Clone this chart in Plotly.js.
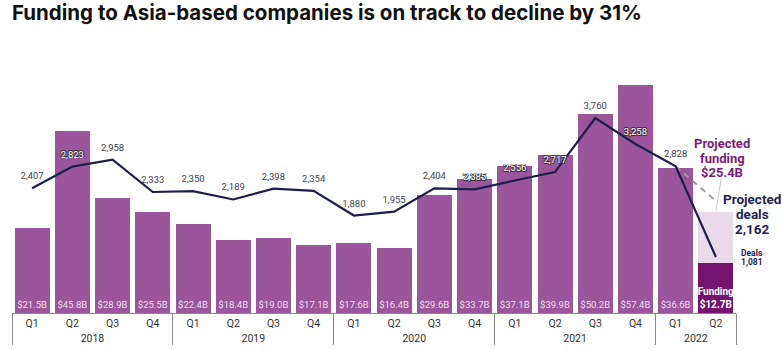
<!DOCTYPE html>
<html><head><meta charset="utf-8">
<script src="https://cdn.plot.ly/plotly-3.0.1.min.js"></script>
<style>html,body{margin:0;padding:0;background:#fff}</style>
</head><body><div id="chart" style="width:782px;height:350px"></div>
<script>
const years = ['2018','2018','2018','2018','2019','2019','2019','2019','2020','2020','2020','2020','2021','2021','2021','2021','2022','2022'];
const quarters = ['Q1','Q2','Q3','Q4','Q1','Q2','Q3','Q4','Q1','Q2','Q3','Q4','Q1','Q2','Q3','Q4','Q1','Q2'];
const fundingB = [21.5,45.8,28.9,25.5,22.4,18.4,19.0,17.1,17.6,16.4,29.6,33.7,37.1,39.9,50.2,57.4,36.6,12.7];
const deals = [2407,2823,2958,2333,2350,2189,2398,2354,1880,1955,2404,2385,2556,2717,3760,3258,2828,1081];
const outlinedLabelIdx = [1,11,12,13,15];
const projectedYear = '2022';
const projectedQuarter = 'Q2';
const projectedFundingB = 25.4;
const projectedDeals = 2162;
const last = fundingB.length - 1;

const fmt = v => v.toLocaleString('en-US');
const barText = fundingB.map((v,i) => i === last ? '<b>Funding<br>$' + v.toFixed(1) + 'B</b>' : '$' + v.toFixed(1) + 'B');
const barColors = fundingB.map((v,i) => i === last ? '#76136E' : '#9B569B');
const barTextColors = fundingB.map((v,i) => i === last ? '#ffffff' : '#F2DDF1');
const barTextSizes = fundingB.map((v,i) => i === last ? 10 : 9.5);

const plainText = deals.map((v,i) => (i === last || outlinedLabelIdx.includes(i)) ? '' : fmt(v));
const outlinedText = deals.map((v,i) => outlinedLabelIdx.includes(i) ? fmt(v) : '');

const xcat = [years, quarters];

const traces = [
  {
    type: 'bar', x: xcat, y: fundingB,
    marker: {color: barColors},
    text: barText, textposition: 'inside', insidetextanchor: 'start', textangle: 0,
    constraintext: 'none',
    textfont: {family: 'Roboto', size: barTextSizes, color: barTextColors},
    showlegend: false
  },
  {
    type: 'bar', x: [[projectedYear],[projectedQuarter]], y: [projectedFundingB - fundingB[last]],
    marker: {color: '#E9D9E9'}, hoverinfo: 'skip', showlegend: false
  },
  {
    type: 'scatter', mode: 'lines', yaxis: 'y2',
    x: [[years[last-1], projectedYear],[quarters[last-1], projectedQuarter]],
    y: [deals[last-1], projectedDeals],
    line: {color: '#9A9AA6', width: 2, dash: '6px,5px'}, showlegend: false
  },
  {
    type: 'scatter', mode: 'lines', yaxis: 'y2', x: xcat, y: deals,
    line: {color: '#1C1E4B', width: 2.2}, showlegend: false
  },
  {
    type: 'scatter', mode: 'markers+text', yaxis: 'y2', x: xcat, y: deals,
    marker: {size: 9, color: 'rgba(0,0,0,0)'},
    text: plainText, textposition: 'top center',
    textfont: {family: 'Roboto', size: 9.5, color: '#3E4252'}, showlegend: false
  },
  {
    type: 'scatter', mode: 'markers+text', yaxis: 'y2', x: xcat, y: deals,
    marker: {size: 9, color: 'rgba(0,0,0,0)'},
    text: outlinedText, textposition: 'top center',
    textfont: {family: 'Roboto', size: 9.5, color: '#ffffff',
      shadow: '-0.7px -0.7px 0 #333, 0.7px -0.7px 0 #333, -0.7px 0.7px 0 #333, 0.7px 0.7px 0 #333'},
    showlegend: false
  }
];

const L = 12, R = 736, T = 60, B = 313;
const px = x => (x - L) / (R - L);
const py = y => (B - y) / (B - T);
const ann = (text, x, y, size, color) => ({
  text, xref: 'paper', yref: 'paper', x: px(x), y: py(y), xanchor: 'center', yanchor: 'middle',
  showarrow: false, font: {family: 'Roboto', size, color, weight: 'bold'}
});

const layout = {
  width: 782, height: 350,
  margin: {l: L, r: 782 - R, t: T, b: 350 - B, autoexpand: false},
  paper_bgcolor: '#fff', plot_bgcolor: '#fff',
  barmode: 'stack', bargap: 0.13,
  title: {
    text: 'Funding to Asia-based companies is on track to decline by 31%',
    xref: 'container', x: 12/782, xanchor: 'left',
    yref: 'container', y: 1 - 6/350, yanchor: 'top',
    font: {family: 'Inter', size: 20.5, weight: 'bold', color: '#111111'}
  },
  xaxis: {
    type: 'multicategory', automargin: false, range: [-0.5, years.length - 0.5],
    showline: true, linecolor: '#8A8A8A', linewidth: 1,
    showdividers: true, dividercolor: '#8A8A8A', dividerwidth: 1,
    ticks: '', tickfont: {family: 'Roboto', size: 10.5, color: '#333'},
    showgrid: false, zeroline: false, fixedrange: true
  },
  yaxis: {range: [0, (B - T) / 3.97], visible: false, showgrid: false, zeroline: false, automargin: false},
  yaxis2: {range: [0, (B - T) / 0.05186], overlaying: 'y', visible: false, showgrid: false, zeroline: false, automargin: false},
  annotations: [
    ann('Projected', 722, 143, 13, '#7B1A79'),
    ann('funding', 722, 158, 13, '#7B1A79'),
    ann('$25.4B', 722, 172, 13, '#7B1A79'),
    ann('Projected', 752, 199, 13.5, '#1F2356'),
    ann('deals', 752, 214, 13.5, '#1F2356'),
    ann(fmt(projectedDeals), 752, 229, 13.5, '#1F2356'),
    ann('Deals', 752, 253, 8.5, '#1F2356'),
    ann(fmt(deals[last]), 752, 262, 8.5, '#1F2356')
  ],
  shapes: [
    {type: 'line', xref: 'paper', yref: 'paper', x0: px(721), y0: py(179), x1: px(716), y1: py(211),
     line: {color: '#C8C8C8', width: 1}}
  ]
};

Plotly.newPlot('chart', traces, layout, {displayModeBar: false, staticPlot: true});
</script></body></html>
